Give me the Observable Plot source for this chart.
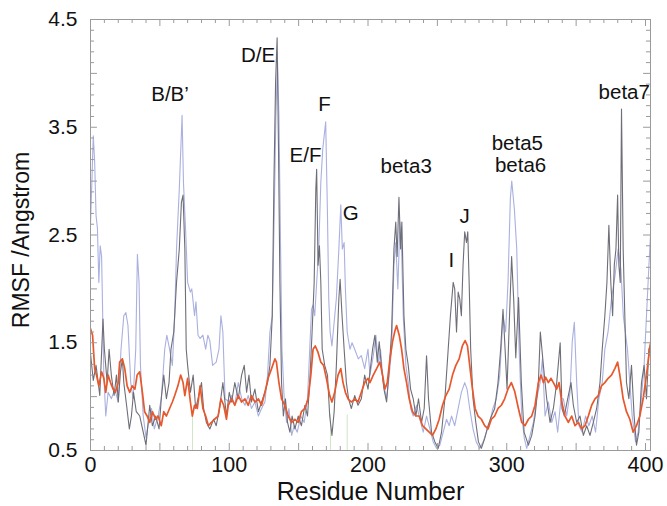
<!DOCTYPE html>
<html><head><meta charset="utf-8">
<script src="https://cdn.jsdelivr.net/npm/d3@7"></script>
<script src="https://cdn.jsdelivr.net/npm/@observablehq/plot@0.6"></script>
<style>body{margin:0;background:#fff;} svg{display:block}</style>
</head><body><div id="chart"></div>
<script>
// ---- axis / text data ----
const xTicks = [0, 100, 200, 300, 400];
const yTicks = [0.5, 1.5, 2.5, 3.5, 4.5];
const xLabel = "Residue Number";
const yLabel = "RMSF /Angstrom";
const peakLabels = [
  {r: 57.3, v: 3.80, label: "B/B\u2019"},
  {r: 120.8, v: 4.17, label: "D/E"},
  {r: 168.7, v: 3.71, label: "F"},
  {r: 155.0, v: 3.24, label: "E/F"},
  {r: 187.5, v: 2.70, label: "G"},
  {r: 227.5, v: 3.14, label: "beta3"},
  {r: 260.0, v: 2.26, label: "I"},
  {r: 269.7, v: 2.67, label: "J"},
  {r: 307.6, v: 3.35, label: "beta5"},
  {r: 310.0, v: 3.15, label: "beta6"},
  {r: 384.7, v: 3.82, label: "beta7"}
];
const greenRes = [73.5, 173, 185];

// ---- series: [residue, RMSF] ----
const grayPts = [[0,1.4],[2,1.15],[4,1.29],[6.7,1.01],[9,1.72],[10,1.44],[12,1.13],[13.4,1.44],[15,1.2],[17,1.01],[18.7,1.2],[20,0.95],[21.6,1.23],[23,1.35],[24,1.13],[26,0.92],[28,0.7],[29.5,0.82],[31,1.04],[33,0.86],[35.5,0.82],[38,0.67],[40,0.55],[42.7,0.92],[44.6,0.73],[47,0.82],[49.4,0.7],[51,0.98],[52.8,1.2],[54.7,0.98],[56.6,1.13],[58,1.44],[60,1.6],[62,2.06],[64,2.37],[65.5,2.8],[66.7,2.87],[68,2.37],[69,1.44],[70,1.29],[72,1.04],[74,1.2],[75.8,0.89],[77.5,0.98],[80,1.13],[81.5,0.89],[83.5,0.76],[86,0.7],[88.7,0.79],[90.6,0.73],[93,0.89],[95.4,1.13],[98,0.82],[100,1.04],
[101.7,0.95],[104,1.13],[106.5,0.98],[108.9,1.2],[110.8,1.29],[112.5,1.04],[114.2,1.2],[116,0.95],[118.5,1.07],[121,0.86],[123.3,0.95],[125.7,1.04],[127.6,1.13],[129.3,1.29],[131,1.75],[132.2,2.99],[133.4,3.92],[134.5,4.33],[135.5,3.3],[136.5,2.06],[137.7,1.13],[139,0.82],[140.5,0.98],[142,0.76],[143.7,0.67],[145.3,0.82],[147.3,0.7],[149.7,0.82],[152,0.73],[154.5,0.92],[156.4,0.82],[158,1.13],[159.7,1.6],[161.2,2.06],[162.4,2.93],[163,3.11],[164,2.22],[165,2.4],[166,2.06],[167,1.44],[168.8,1.29],[170.8,1.2],[172.4,0.82],[174,0.64],[175.6,0.86],[177.2,1.29],[179,1.91],[179.9,2.09],[181.3,1.75],[182.8,1.44],[184.4,1.13],[186,0.98],[188,0.89],[190.4,1.01],[192.8,0.92],[195.2,0.98],[197.6,1.2],[200,1.07],
[203.3,1.44],[205,1.57],[206.7,1.32],[208.1,1.51],[209.8,1.26],[211.5,1.07],[213.4,0.95],[215.3,1.26],[217,1.6],[218.7,2.37],[220,2.62],[221,2.3],[222.3,2.85],[223.5,2.37],[224.4,2.62],[225.9,1.75],[227.3,1.44],[229,1.29],[230.7,1.07],[232.6,0.98],[234.5,0.82],[236.4,0.98],[238.6,0.76],[240.5,0.89],[242.2,1.38],[243.6,0.98],[245.8,0.67],[248.2,0.58],[250.6,0.52],[253,0.67],[255.4,0.98],[257.8,1.44],[259.4,1.75],[261.4,2.06],[262.5,2.0],[263.8,1.6],[265,1.97],[266.1,1.91],[267.3,1.75],[268.5,2.22],[269.7,2.53],[271,2.43],[271.9,2.53],[272.9,2.06],[274,1.44],[275.7,0.98],[277.7,0.76],[279.6,0.58],[281.7,0.52],[284.1,0.61],[286.5,0.73],[289,0.82],[291.3,0.89],[293.7,1.13],[295.6,1.44],[297.3,1.81],[298.8,1.44],[300.2,1.07],[301.6,1.6],[303.5,2.3],[305,1.9],[306.5,1.36],[308.5,1.92],[310.5,1.13],[312.5,0.67],
[315.6,0.55],[318,0.64],[320.4,0.82],[322.8,1.13],[324.2,1.6],[326.4,1.29],[328.8,0.98],[331.2,0.76],[333.6,0.89],[336,1.13],[338.5,1.5],[339.8,0.89],[341.5,0.82],[343.9,0.98],[346.3,1.13],[348,0.92],[350.4,0.76],[352.8,0.82],[355.2,0.64],[357.6,0.73],[360,0.64],[362.4,0.76],[364.8,0.89],[367.2,1.13],[368.8,1.44],[370.7,1.75],[372.2,2.06],[373.6,2.59],[375,2.06],[376.3,1.75],[377.5,2.22],[378.7,2.37],[379.9,2.87],[380.8,2.22],[381.8,2.06],[382.7,3.67],[383.9,2.37],[385.1,1.75],[386.3,1.13],[388,0.98],[389.9,1.29],[391.8,0.82],[393.5,0.55],[395.2,0.67],[397.1,1.13],[399,1.29],[400.7,0.98],[402.4,1.44],[404,1.5]];

const bluePts = [[0,2.6],[1,3.0],[2,3.42],[3,3.18],[4,2.68],[5,2.56],[6,2.06],[7,2.4],[8,2.3],[9.6,1.2],[11,0.82],[12.7,1.04],[15,0.98],[17.5,1.07],[20,0.95],[22,1.44],[24,1.75],[25.5,1.78],[27,1.66],[29,1.13],[30.7,0.98],[32.6,1.44],[33.8,2.32],[35,2.06],[36,1.29],[38,0.82],[40,0.62],[41.5,0.73],[44,0.89],[46,0.7],[48.7,0.82],[51,0.98],[53.5,1.44],[55,1.57],[57,1.44],[59,1.29],[60.7,1.75],[62,2.37],[64,2.93],[66,3.61],[67,2.99],[68.6,2.53],[70,2.06],[72,1.97],[73,2.0],[75,1.75],[76,1.88],[77.5,1.57],[79,1.54],[81,1.57],[83,1.44],[84.6,1.57],[86,1.52],[88,1.29],[90.6,1.32],[92.6,1.44],[94,1.75],[95.4,1.6],[97,0.98],[100,0.95],
[101.7,1.01],[104,0.92],[106.5,1.13],[109,0.98],[111.3,0.92],[113.7,1.01],[116,0.89],[118.5,0.95],[121,0.82],[123.3,0.89],[125.7,0.95],[127.6,1.2],[129.3,1.6],[131,1.75],[132.4,2.68],[133.6,3.6],[134.8,4.1],[135.8,3.61],[137,2.37],[138,1.44],[139.6,0.98],[141.3,0.76],[143,0.89],[145,0.64],[146.8,0.73],[149,0.67],[151.6,0.82],[154,0.76],[156.4,0.98],[158,1.44],[159.3,1.81],[160.4,1.85],[161.6,1.75],[163,2.06],[164.5,2.37],[166,2.99],[167.4,3.3],[169.5,3.55],[170.8,2.68],[171.7,1.91],[172.7,1.6],[174,1.47],[175.6,1.69],[177.2,1.91],[179,2.37],[180.4,2.78],[181.5,2.37],[182.8,2.43],[183.7,2.0],[185,1.6],[187,1.44],[188.5,1.5],[190.4,1.44],[193,1.35],[195.2,1.38],[197.6,1.26],[200,1.44],
[201.4,1.2],[203.8,1.38],[205.7,1.57],[207.4,1.29],[209,1.44],[211,1.13],[213.4,0.98],[215.3,1.2],[217,1.44],[218.7,2.22],[220,2.43],[221.5,2.0],[223,2.62],[224.2,2.37],[225.4,1.75],[227.3,1.29],[229,1.13],[230.7,0.89],[232.6,0.82],[235,0.92],[237.4,0.79],[239.8,0.67],[242.2,0.82],[244.6,0.7],[247,0.58],[249.4,0.52],[251.8,0.55],[254.2,0.67],[256.6,0.79],[258.5,0.73],[260.2,0.82],[262.5,0.73],[265,0.89],[267.3,1.04],[269.7,1.13],[271.4,1.07],[273.3,0.89],[275.7,0.7],[278,0.58],[280.5,0.52],[283,0.58],[285.3,0.67],[287.7,0.76],[290,0.89],[292.5,0.98],[295,1.2],[297.3,1.75],[299.2,1.6],[300.9,2.06],[302.6,2.84],[303.6,3.0],[305.5,2.74],[307.2,2.37],[308.9,1.44],[310.8,0.82],[312.7,0.61],[314.4,0.52],[316.8,0.64],[319.2,0.76],[321.6,0.98],[324,1.13],[325.7,1.35],[327.6,0.82],[330,0.95],[332.4,0.76],[334.8,0.86],[336.7,0.67],[339.1,0.98],[340.8,0.98],[343.2,0.82],[345.6,1.04],[347.2,1.51],[348.7,1.69],[350.4,1.13],[352,0.73],[354.4,0.67],[356.8,0.82],[359.2,0.73],[361.6,0.82],[364,0.67],[366.4,0.98],[368.8,1.13],[370.7,1.44],[373,1.6],[375.5,1.91],[378,2.12],[380.3,2.37],[382.3,2.18],[384,1.75],[387,1.44],[388.7,1.13],[390.4,0.82],[392.8,0.58],[394.7,0.67],[397,0.98],[399,1.29],[400.7,1.75],[402.4,2.2],[404,2.6]];

const orangePts = [[0,1.63],[1.5,1.57],[3,1.26],[4.3,1.2],[6,1.1],[8,1.23],[9.6,1.17],[11,1.04],[12.7,1.2],[14.4,1.13],[16.3,1.07],[18,1.04],[20,1.13],[21,1.32],[23,1.35],[24.7,1.26],[26.4,1.1],[28.3,1.04],[30,1.1],[32,1.07],[33.6,1.2],[35.5,1.23],[37.4,1.04],[39,0.86],[40.8,0.82],[42.7,0.76],[44.6,0.86],[47,0.79],[48.7,0.82],[51,0.73],[52.8,0.86],[54.7,0.82],[57,0.89],[59,0.95],[60.7,1.01],[63,1.1],[65,1.2],[66.7,1.13],[68,1.01],[70,1.17],[72,0.95],[73.4,0.82],[75,0.92],[77,0.89],[79,1.1],[81,0.89],[83,0.82],[85,0.73],[87,0.76],[89.4,0.79],[92,0.82],[94,0.98],[96,0.92],[98,0.79],[99.3,0.92],[101.7,0.98],[104,0.92],[106.5,1.01],[108.9,0.95],[111.3,0.98],[113.7,0.92],[116,1.01],[118.5,0.95],[121,0.98],[123.3,0.92],[125.7,1.04],[128,1.17],[130.5,1.26],[132.9,1.35],[134,1.32],[135.8,1.13],[137.7,0.98],[140,0.92],[142.5,0.82],[145,0.76],[147.3,0.79],[149.7,0.76],[152,0.86],[154.5,0.89],[156.8,0.98],[158.8,1.2],[160.4,1.44],[162,1.47],[164,1.41],[166,1.32],[168,1.29],[170,1.17],[172.4,1.01],[174,0.95],[176,1.04],[178.4,1.2],[180.4,1.26],[182,1.13],[183.7,1.04],[185.6,0.98],[188,0.95],[190.4,0.98],[192.8,0.95],[195.2,1.04],[197.6,1.13],[200,1.17],[201.4,1.13],[203.8,1.2],[206.2,1.26],[208.6,1.32],[210.5,1.2],[212.2,1.07],[213.9,1.13],[215.8,1.35],[217.7,1.51],[219.4,1.61],[220.6,1.66],[222.5,1.57],[224.2,1.44],[225.9,1.26],[227.8,1.13],[229.7,0.98],[232.1,0.86],[234.5,0.82],[236.9,0.82],[239.3,0.73],[241.7,0.7],[244.1,0.67],[246.5,0.64],[248.9,0.7],[251.3,0.79],[253.7,0.92],[256.1,1.01],[258.5,1.07],[260.9,1.2],[263.3,1.29],[265.7,1.35],[268,1.47],[270,1.52],[271.7,1.47],[273.3,1.29],[275.3,1.07],[277.2,0.89],[279.3,0.82],[281.7,0.79],[284.1,0.73],[286.5,0.7],[288.9,0.79],[291.3,0.82],[293.7,0.89],[296.1,0.92],[298.5,0.98],[300.9,1.07],[303.3,1.13],[305.7,1.05],[308.4,0.89],[310.8,0.76],[313.2,0.73],[315.6,0.79],[318,0.82],[320.4,0.92],[322.8,1.13],[324.7,1.2],[326.4,1.13],[328,1.18],[330,1.13],[331.9,1.17],[333.6,1.13],[336,1.07],[337.7,1.13],[339.6,0.95],[342,0.82],[344.4,0.76],[346.8,0.82],[349.2,0.73],[351.6,0.76],[354,0.7],[356.4,0.73],[358.8,0.82],[361.2,0.92],[363.6,0.98],[366,1.01],[368.3,1.1],[370.7,1.13],[373.1,1.17],[375.5,1.2],[377.9,1.26],[379.9,1.32],[381.5,1.2],[383.9,0.98],[386.3,0.86],[388.7,0.79],[391.1,0.67],[393.5,0.73],[395.9,0.82],[398.3,0.98],[400.7,1.2],[403,1.44],[404,1.53]];

// ---- layout ----
const X_MAX = 403.6, Y_MIN = 0.5, Y_MAX = 4.5;
const yMinor = d3.range(5, 46).map(d => d / 10);
const yMajor = yMinor.filter(d => Math.abs(d * 2 - Math.round(d * 2)) < 1e-6);
const xMinor = d3.range(0, 404, 10);
const xMajor = xMinor.filter(d => d % 50 === 0);
const rows = s => s.map(([r, v]) => ({r, v}));
const tickCol = "#9a9a9a";
const xs = 2.9, xl = 5.0, ys = 0.037, yl = 0.065;

const chart = Plot.plot({
  width: 667, height: 506,
  marginLeft: 90, marginRight: 17, marginTop: 19, marginBottom: 56,
  x: {domain: [0, X_MAX], axis: null},
  y: {domain: [Y_MIN, Y_MAX], axis: null},
  style: {fontFamily: "'Liberation Sans', Arial, Helvetica, sans-serif", background: "#fff", color: "#111"},
  marks: [
    Plot.ruleX(greenRes, {x: d => d, y1: Y_MIN, y2: 0.83, stroke: "#cfe6c4", strokeWidth: 1}),
    Plot.line(rows(bluePts), {x: "r", y: "v", stroke: "#aab0e0", strokeWidth: 1.1, clip: true}),
    Plot.line(rows(grayPts), {x: "r", y: "v", stroke: "#6e6e78", strokeWidth: 1.1, clip: true}),
    Plot.line(rows(orangePts), {x: "r", y: "v", stroke: "#e8582c", strokeWidth: 1.7, clip: true}),
    // inward ticks
    Plot.ruleY(yMinor, {y: d => d, x1: 0, x2: d => yMajor.includes(d) ? xl : xs, stroke: tickCol}),
    Plot.ruleY(yMinor, {y: d => d, x1: X_MAX, x2: d => X_MAX - (yMajor.includes(d) ? xl : xs), stroke: tickCol}),
    Plot.ruleX(xMinor, {x: d => d, y1: Y_MIN, y2: d => Y_MIN + (xMajor.includes(d) ? yl : ys), stroke: tickCol}),
    Plot.ruleX(xMinor, {x: d => d, y1: Y_MAX, y2: d => Y_MAX - (xMajor.includes(d) ? yl : ys), stroke: tickCol}),
    Plot.frame({stroke: tickCol}),
    // tick labels
    Plot.text(yTicks, {x: 0, y: d => d, text: d => d.toFixed(1), textAnchor: "end", dx: -13, fontSize: 21, fill: "#111"}),
    Plot.text(xTicks, {x: d => d, y: Y_MIN, text: d => String(d), dy: 15, fontSize: 21.5, fill: "#111"}),
    // axis titles
    Plot.text([xLabel], {frameAnchor: "bottom", text: d => d, textAnchor: "middle", lineAnchor: "middle", dy: 41.5, fontSize: 25, fill: "#111"}),
    Plot.text([yLabel], {frameAnchor: "left", text: d => d, textAnchor: "middle", lineAnchor: "middle", dx: -69, dy: 5, rotate: -90, fontSize: 23, fill: "#111"}),
    // peak labels
    Plot.text(peakLabels, {x: "r", y: "v", text: "label", fontSize: 20.5, fill: "#111"})
  ]
});
document.getElementById("chart").appendChild(chart);
</script>
</body></html>
